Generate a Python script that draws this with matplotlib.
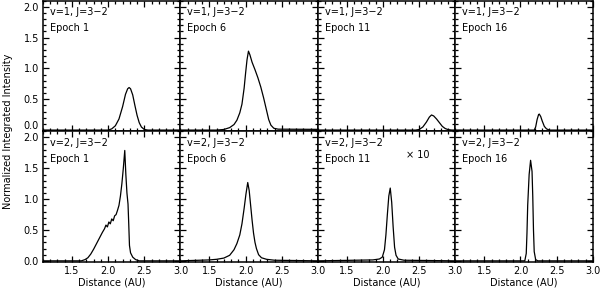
import matplotlib.pyplot as plt
import matplotlib.transforms as mtransforms
from matplotlib.ticker import MultipleLocator

plt.rcParams['font.family'] = ['DejaVu Sans']

epochs = [1, 6, 11, 16]
row_labels = ['v=1, J=3\u22122', 'v=2, J=3\u22122']
ytick_vals = [0.0, 0.5, 1.0, 1.5, 2.0]
ytick_labels = ['0.0', '0.5', '1.0', '1.5', '2.0']
xtick_vals = [1.5, 2.0, 2.5, 3.0]
xtick_labels = ['1.5', '2.0', '2.5', '3.0']

# v=1, J=3-2
v1_e1_x = [1.1, 2.00, 2.05, 2.10, 2.15, 2.20, 2.24, 2.27, 2.29, 2.31, 2.34, 2.37, 2.40, 2.43, 2.46, 2.50, 2.55, 3.0]
v1_e1_y = [0.0, 0.0, 0.02, 0.07, 0.18, 0.38, 0.58, 0.67, 0.69, 0.67, 0.57, 0.40, 0.24, 0.12, 0.05, 0.01, 0.0, 0.0]

v1_e6_x = [1.1, 1.60, 1.70, 1.78, 1.84, 1.88, 1.92, 1.95, 1.98, 2.00, 2.02, 2.04, 2.06, 2.09, 2.13,
           2.17, 2.21, 2.25, 2.29, 2.32, 2.35, 2.39, 2.45, 3.0]
v1_e6_y = [0.0, 0.0, 0.01, 0.04, 0.09, 0.16, 0.28, 0.42, 0.68, 0.92, 1.14, 1.28, 1.22, 1.10, 0.98,
           0.85, 0.70, 0.52, 0.32, 0.17, 0.08, 0.03, 0.015, 0.012]

v1_e11_x = [1.1, 2.45, 2.50, 2.55, 2.60, 2.64, 2.67, 2.70, 2.74, 2.78, 2.82, 2.86, 2.90, 2.95, 3.0]
v1_e11_y = [0.0, 0.0, 0.01, 0.05, 0.13, 0.21, 0.245, 0.23, 0.18, 0.12, 0.06, 0.025, 0.008, 0.0, 0.0]

v1_e16_x = [1.1, 2.19, 2.21, 2.23, 2.25, 2.26, 2.28, 2.30, 2.33, 2.36, 2.40, 3.0]
v1_e16_y = [0.0, 0.0, 0.05, 0.17, 0.25, 0.26, 0.22, 0.15, 0.06, 0.02, 0.0, 0.0]

# v=2, J=3-2
v2_e1_x = [1.1, 1.63, 1.68, 1.72, 1.76, 1.80, 1.84, 1.88, 1.92, 1.95, 1.97, 1.99, 2.01, 2.03, 2.05,
           2.07, 2.09, 2.11, 2.13, 2.15, 2.17, 2.19, 2.21, 2.23, 2.245, 2.26, 2.275, 2.285, 2.295,
           2.31, 2.34, 2.38, 2.43, 3.0]
v2_e1_y = [0.0, 0.0, 0.02, 0.05, 0.11, 0.19, 0.28, 0.37, 0.46, 0.52, 0.58, 0.55, 0.63, 0.60, 0.68,
           0.65, 0.73, 0.75, 0.82, 0.90, 1.05, 1.25, 1.50, 1.79, 1.40, 1.10, 0.92, 0.60, 0.25,
           0.13, 0.06, 0.02, 0.0, 0.0]

v2_e6_x = [1.1, 1.50, 1.60, 1.70, 1.78, 1.84, 1.88, 1.92, 1.95, 1.98, 2.005, 2.03, 2.05, 2.07, 2.09,
           2.11, 2.13, 2.15, 2.18, 2.22, 2.29, 2.40, 3.0]
v2_e6_y = [0.0, 0.015, 0.025, 0.045, 0.09, 0.18, 0.28, 0.42, 0.60, 0.85, 1.08, 1.27, 1.14, 0.90, 0.66,
           0.45, 0.30, 0.20, 0.10, 0.05, 0.025, 0.01, 0.0]

v2_e11_x = [1.1, 1.86, 1.95, 1.99, 2.02, 2.04, 2.06, 2.08, 2.10, 2.12, 2.14, 2.16, 2.18, 2.21, 2.29, 3.0]
v2_e11_y = [0.0, 0.015, 0.03, 0.06, 0.18, 0.42, 0.75, 1.05, 1.18, 0.95, 0.55, 0.22, 0.09, 0.03, 0.01, 0.0]

v2_e16_x = [1.1, 2.06, 2.08, 2.09, 2.10, 2.12, 2.14, 2.16, 2.17, 2.18, 2.19, 2.21, 2.24, 3.0]
v2_e16_y = [0.0, 0.0, 0.12, 0.45, 0.90, 1.40, 1.63, 1.45, 1.05, 0.50, 0.15, 0.02, 0.0, 0.0]

curves = [
    [(v1_e1_x, v1_e1_y), (v1_e6_x, v1_e6_y), (v1_e11_x, v1_e11_y), (v1_e16_x, v1_e16_y)],
    [(v2_e1_x, v2_e1_y), (v2_e6_x, v2_e6_y), (v2_e11_x, v2_e11_y), (v2_e16_x, v2_e16_y)],
]

fig, axes = plt.subplots(2, 4, figsize=(6, 2.88), dpi=100)
fig.subplots_adjust(left=0.0717, right=0.988, top=0.998, bottom=0.09, wspace=0, hspace=0)

for r in range(2):
    for c in range(4):
        ax = axes[r, c]
        x, y = curves[r][c]
        ax.plot(x, y, color='black', lw=0.9)
        ax.set_xlim(1.1, 3.0)
        ax.set_ylim(-0.02, 2.1)
        ax.set_xticks(xtick_vals)
        ax.set_yticks(ytick_vals)
        ax.xaxis.set_minor_locator(MultipleLocator(0.1))
        ax.yaxis.set_minor_locator(MultipleLocator(0.1))
        ax.tick_params(which='both', direction='in', top=True, right=True,
                       labelsize=7, width=0.9, pad=3)
        ax.tick_params(which='major', length=4.5)
        ax.tick_params(which='minor', length=2.2)
        for s in ax.spines.values():
            s.set_linewidth(1.1)
        ax.text(0.05, 0.95, row_labels[r], transform=ax.transAxes, fontsize=7,
                ha='left', va='top')
        ax.text(0.05, 0.83, 'Epoch %d' % epochs[c], transform=ax.transAxes, fontsize=7,
                ha='left', va='top')
        if r == 1:
            ax.set_xticklabels(xtick_labels)
            ax.set_xlabel('Distance (AU)', fontsize=7, labelpad=1)
        else:
            ax.set_xticklabels([])
        if c == 0 and r == 1:
            ax.set_yticklabels(ytick_labels)
        elif c == 0:
            # top row: the 0.0 label sits a little above its tick so it clears the 2.0 below
            ax.set_yticklabels([''] + ytick_labels[1:])
            shift = mtransforms.ScaledTranslation(-3.0 / 72, 2.6 / 72, fig.dpi_scale_trans)
            ax.text(0, ytick_vals[0], ytick_labels[0], fontsize=7, ha='right', va='center',
                    transform=ax.get_yaxis_transform() + shift)
        else:
            ax.set_yticklabels([])

axes[1, 2].text(2.48, 1.71, '\u00d7 10', fontsize=7, ha='center', va='center')

fig.text(0.014, 0.545, 'Normalized Integrated Intensity', rotation=90,
         fontsize=7, ha='center', va='center')

fig.savefig('out.png', dpi=100)
